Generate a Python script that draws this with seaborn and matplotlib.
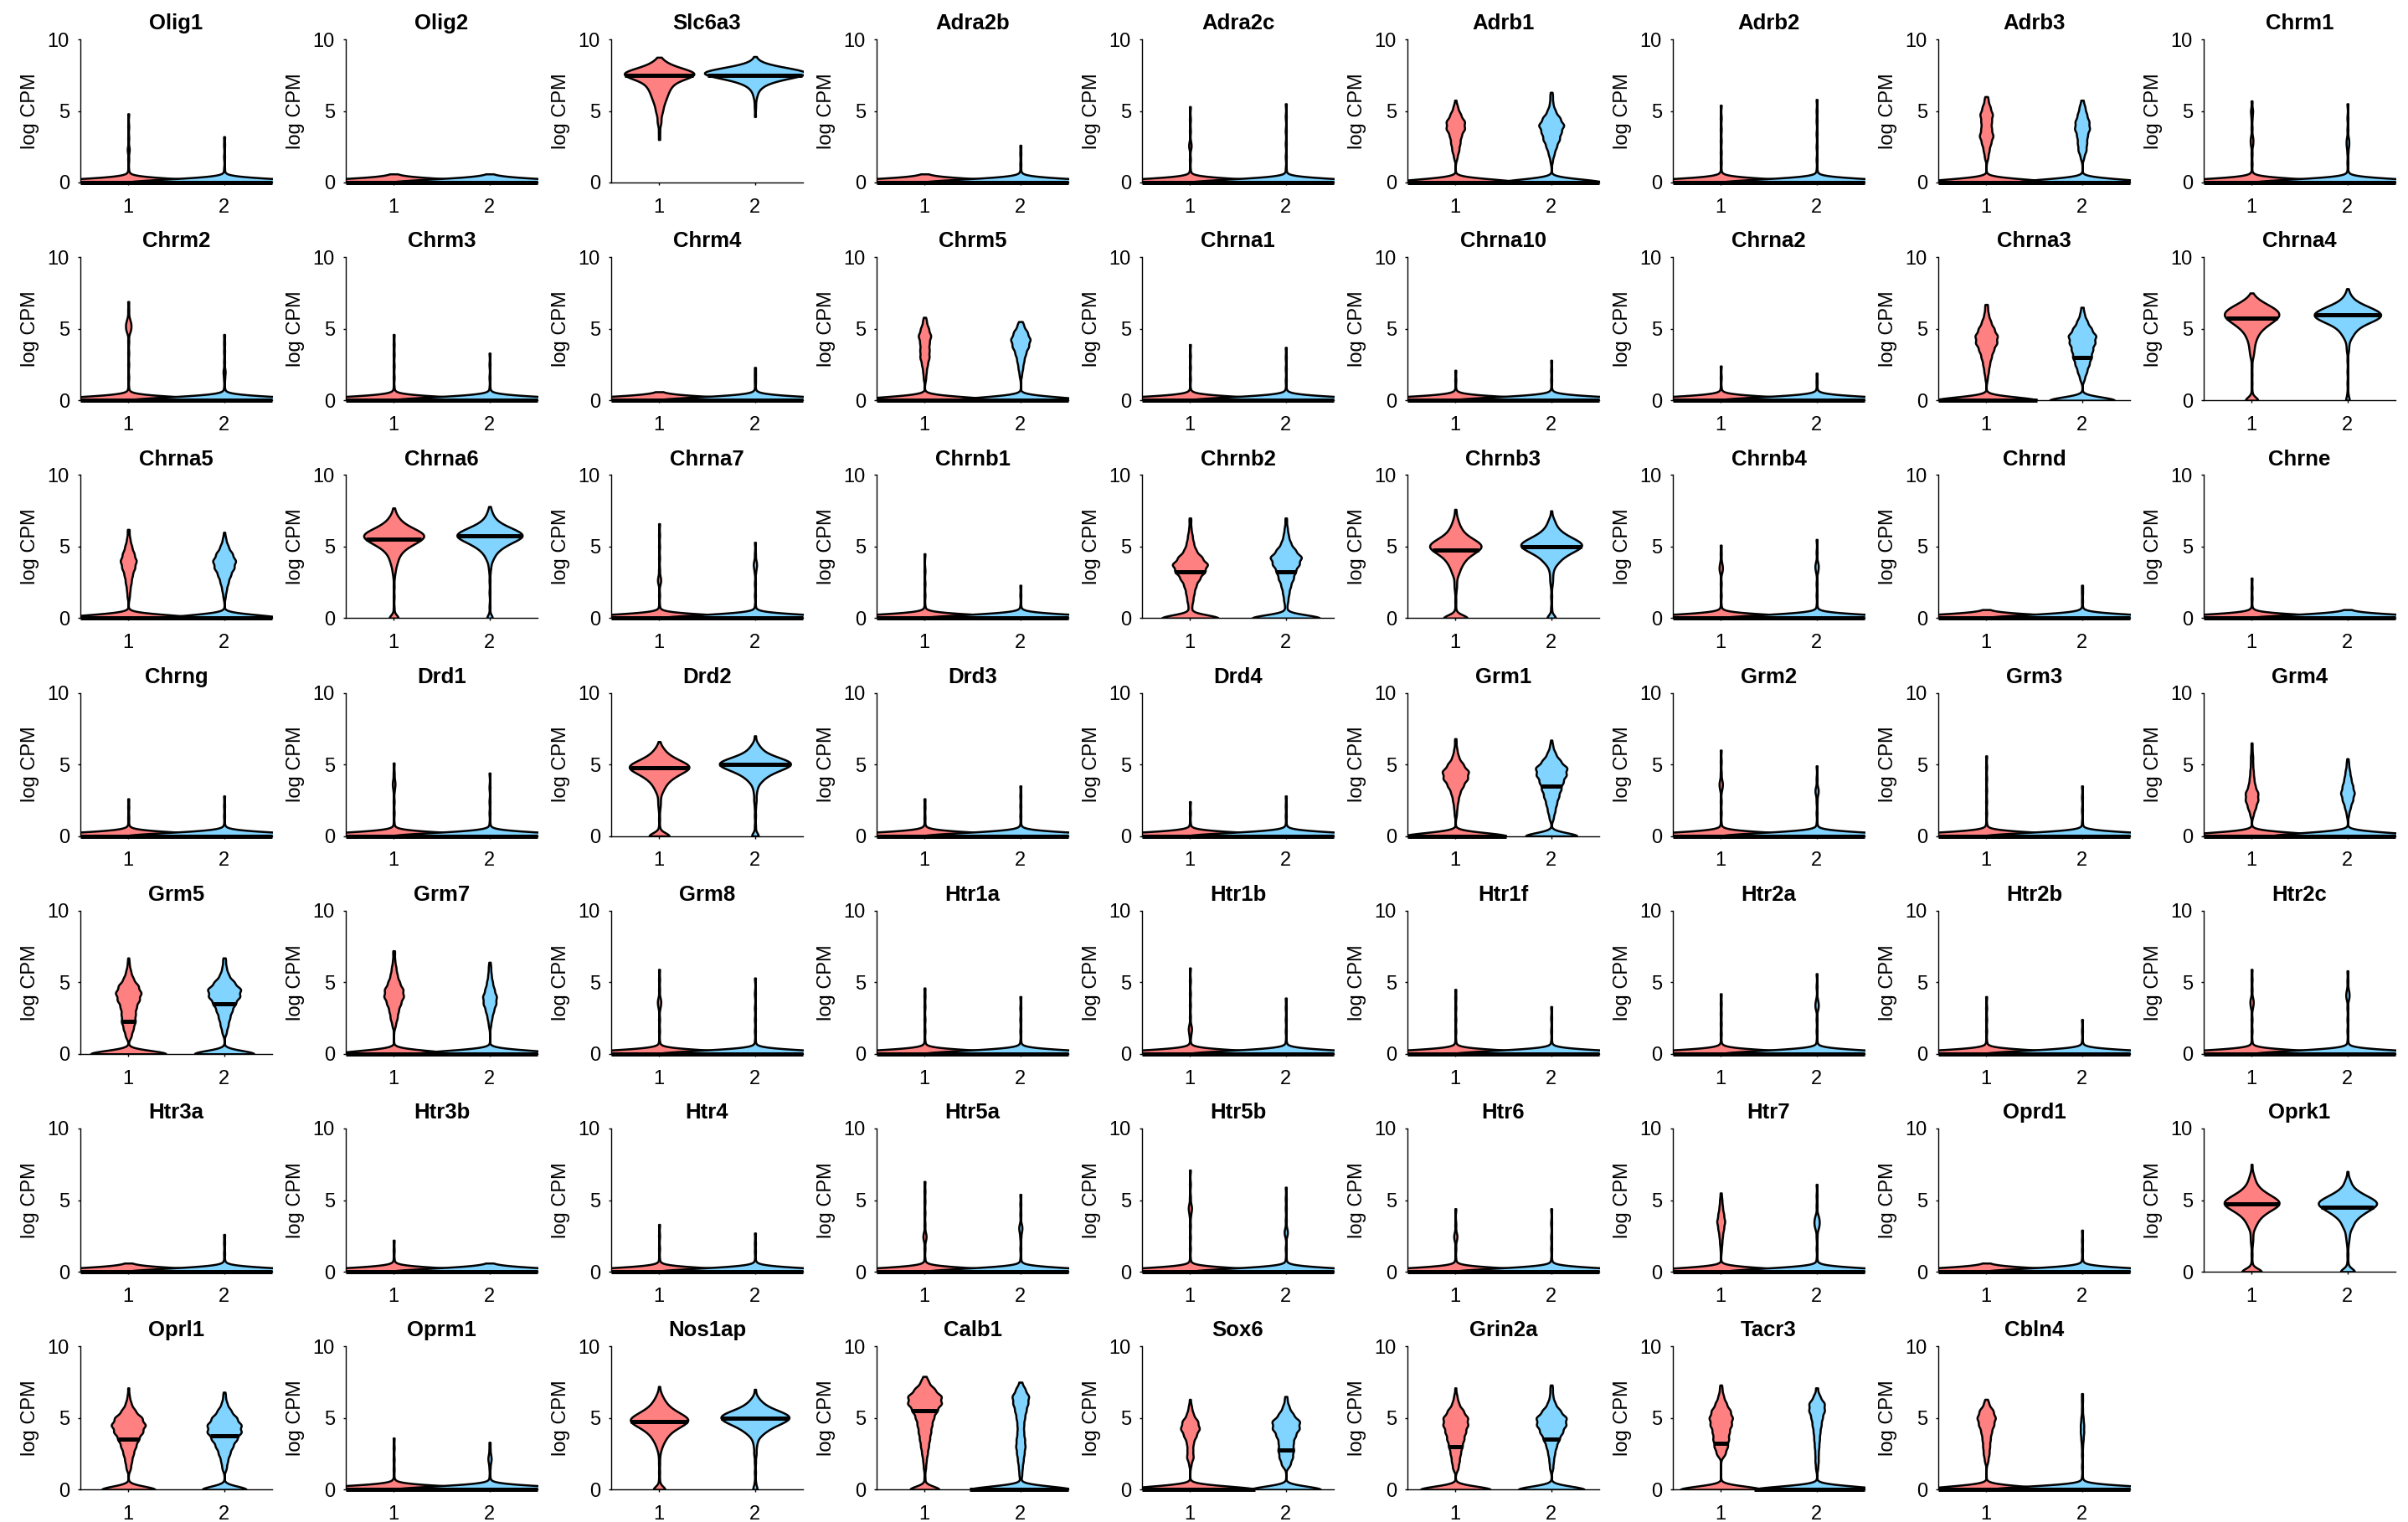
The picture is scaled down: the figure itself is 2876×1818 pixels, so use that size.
import numpy as np
import pandas as pd
import matplotlib.pyplot as plt
import seaborn as sns

# gene panels, read left to right, top to bottom
genes = ['Olig1', 'Olig2', 'Slc6a3', 'Adra2b', 'Adra2c', 'Adrb1', 'Adrb2', 'Adrb3', 'Chrm1',
         'Chrm2', 'Chrm3', 'Chrm4', 'Chrm5', 'Chrna1', 'Chrna10', 'Chrna2', 'Chrna3', 'Chrna4',
         'Chrna5', 'Chrna6', 'Chrna7', 'Chrnb1', 'Chrnb2', 'Chrnb3', 'Chrnb4', 'Chrnd', 'Chrne',
         'Chrng', 'Drd1', 'Drd2', 'Drd3', 'Drd4', 'Grm1', 'Grm2', 'Grm3', 'Grm4',
         'Grm5', 'Grm7', 'Grm8', 'Htr1a', 'Htr1b', 'Htr1f', 'Htr2a', 'Htr2b', 'Htr2c',
         'Htr3a', 'Htr3b', 'Htr4', 'Htr5a', 'Htr5b', 'Htr6', 'Htr7', 'Oprd1', 'Oprk1',
         'Oprl1', 'Oprm1', 'Nos1ap', 'Calb1', 'Sox6', 'Grin2a', 'Tacr3', 'Cbln4']

# (log CPM, number of cells) estimated from each violin of cluster 1
cells_1 = [
    [(0, 195), (0.8, 1), (1.6, 1), (2.3, 2), (3.1, 1), (3.9, 1), (4.8, 1)],  # Olig1
    [(0, 198), (0.3, 1), (0.6, 1)],  # Olig2
    [(3.0, 1), (3.5, 1), (4.0, 1), (4.25, 2), (4.5, 1), (4.75, 2), (5.0, 3), (5.25, 3), (5.5, 4), (5.75, 5),
     (6.0, 6), (6.25, 7), (6.5, 8), (6.75, 10), (7.0, 12), (7.25, 20), (7.5, 30), (7.75, 28), (8.0, 16),
     (8.25, 8), (8.5, 4), (8.75, 1)],  # Slc6a3
    [(0, 198), (0.3, 1), (0.6, 1)],  # Adra2b
    [(0, 194), (0.8, 1), (1.6, 1), (2.5, 2), (2.8, 1), (3.6, 1), (4.4, 1), (5.3, 1)],  # Adra2c
    [(0, 127), (1.75, 3), (2.25, 6), (2.75, 8), (3.25, 10), (3.75, 16), (4.25, 16), (4.75, 9), (5.25, 4),
     (5.75, 1)],  # Adrb1
    [(0, 194), (0.7, 1), (1.4, 1), (2.1, 1), (2.9, 1), (3.7, 1), (4.5, 1), (5.4, 1)],  # Adrb2
    [(0, 132), (1.75, 3), (2.25, 5), (2.75, 8), (3.25, 12), (3.75, 9), (4.25, 9), (4.75, 11), (5.25, 7),
     (5.75, 3), (6.0, 1)],  # Adrb3
    [(0, 190), (0.6, 1), (1.3, 1), (2.0, 1), (2.7, 2), (3.1, 2), (3.8, 1), (4.5, 1), (5.0, 2), (5.7, 1)],  # Chrm1
    [(0, 188), (0.8, 1), (1.6, 1), (2.5, 1), (3.3, 1), (4.1, 1), (4.8, 2), (5.0, 2), (5.25, 3), (5.5, 2),
     (5.75, 1), (6.3, 1), (6.9, 1)],  # Chrm2
    [(0, 195), (0.8, 1), (1.6, 1), (2.4, 1), (3.2, 1), (3.9, 1), (4.6, 1)],  # Chrm3
    [(0, 198), (0.3, 1), (0.6, 1)],  # Chrm4
    [(0, 144), (1.5, 2), (2.0, 3), (2.5, 5), (3.0, 8), (3.5, 8), (4.0, 8), (4.5, 11), (5.0, 7), (5.5, 3),
     (5.8, 1)],  # Chrm5
    [(0, 195), (0.7, 1), (1.5, 1), (2.3, 1), (3.1, 1), (3.9, 1)],  # Chrna1
    [(0, 197), (0.7, 1), (1.4, 1), (2.1, 1)],  # Chrna10
    [(0, 197), (0.8, 1), (1.6, 1), (2.4, 1)],  # Chrna2
    [(0, 105), (1.5, 2), (2.0, 4), (2.5, 6), (3.0, 9), (3.5, 13), (4.0, 19), (4.5, 20), (5.0, 14), (5.5, 8),
     (6.0, 4), (6.5, 2), (6.7, 1)],  # Chrna3
    [(0, 16), (0.6, 1), (1.2, 1), (1.8, 1), (2.4, 1), (3.0, 2), (3.25, 2), (3.5, 3), (3.75, 3), (4.0, 4),
     (4.25, 5), (4.5, 7), (4.75, 9), (5.0, 13), (5.25, 18), (5.5, 24), (5.75, 30), (6.0, 32), (6.25, 30),
     (6.5, 24), (6.75, 16), (7.0, 9), (7.25, 4), (7.5, 1)],  # Chrna4
    [(0, 137), (1.5, 2), (2.0, 3), (2.5, 5), (3.0, 7), (3.5, 11), (4.0, 14), (4.5, 10), (5.0, 6), (5.5, 3),
     (6.0, 1), (6.2, 1)],  # Chrna5
    [(0, 10), (0.7, 1), (1.5, 1), (2.2, 1), (2.8, 1), (3.2, 2), (3.5, 2), (3.75, 3), (4.0, 4), (4.25, 5),
     (4.5, 7), (4.75, 10), (5.0, 15), (5.25, 22), (5.5, 28), (5.75, 32), (6.0, 28), (6.25, 20), (6.5, 13),
     (6.75, 8), (7.0, 5), (7.25, 3), (7.5, 1), (7.7, 1)],  # Chrna6
    [(0, 192), (0.8, 1), (1.6, 1), (2.5, 2), (2.8, 2), (3.4, 1), (4.2, 1), (5.0, 1), (5.8, 1), (6.6, 1)],  # Chrna7
    [(0, 195), (0.8, 1), (1.6, 1), (2.4, 1), (3.3, 1), (4.5, 1)],  # Chrnb1
    [(0, 55), (0.75, 3), (1.25, 5), (1.75, 7), (2.25, 10), (2.75, 16), (3.25, 25), (3.75, 30), (4.25, 20),
     (4.75, 10), (5.25, 6), (5.75, 4), (6.25, 2), (6.75, 1), (7.0, 1)],  # Chrnb2
    [(0, 26), (0.6, 1), (1.2, 1), (1.8, 1), (2.2, 2), (2.6, 2), (3.0, 3), (3.25, 4), (3.5, 5), (3.75, 7),
     (4.0, 9), (4.25, 12), (4.5, 17), (4.75, 23), (5.0, 27), (5.25, 24), (5.5, 18), (5.75, 12), (6.0, 8),
     (6.25, 6), (6.5, 4), (6.75, 3), (7.0, 2), (7.3, 1), (7.6, 1)],  # Chrnb3
    [(0, 192), (0.8, 1), (1.6, 1), (2.4, 1), (3.3, 2), (3.6, 2), (3.9, 1), (4.5, 1), (5.1, 1)],  # Chrnb4
    [(0, 198), (0.3, 1), (0.6, 1)],  # Chrnd
    [(0, 196), (0.7, 1), (1.4, 1), (2.1, 1), (2.8, 1)],  # Chrne
    [(0, 196), (0.7, 1), (1.3, 1), (2.0, 1), (2.6, 1)],  # Chrng
    [(0, 192), (0.8, 1), (1.6, 1), (2.4, 1), (3.2, 1), (3.6, 2), (3.9, 1), (4.4, 1), (5.1, 1)],  # Drd1
    [(0, 21), (0.6, 1), (1.2, 1), (1.8, 1), (2.2, 2), (2.6, 2), (3.0, 3), (3.25, 4), (3.5, 6), (3.75, 8),
     (4.0, 12), (4.25, 17), (4.5, 24), (4.75, 30), (5.0, 28), (5.25, 20), (5.5, 13), (5.75, 8), (6.0, 5),
     (6.25, 3), (6.6, 1)],  # Drd2
    [(0, 196), (0.7, 1), (1.3, 1), (2.0, 1), (2.6, 1)],  # Drd3
    [(0, 197), (0.8, 1), (1.6, 1), (2.4, 1)],  # Drd4
    [(0, 106), (1.5, 2), (2.0, 3), (2.5, 5), (3.0, 8), (3.5, 14), (4.0, 22), (4.5, 24), (5.0, 14), (5.5, 6),
     (6.0, 3), (6.5, 1), (6.8, 1)],  # Grm1
    [(0, 192), (0.8, 1), (1.6, 1), (2.4, 1), (3.2, 1), (3.5, 2), (3.8, 2), (4.4, 1), (5.2, 1), (6.0, 1)],  # Grm2
    [(0, 194), (0.8, 1), (1.6, 1), (2.4, 1), (3.2, 1), (4.0, 1), (4.8, 1), (5.6, 1)],  # Grm3
    [(0, 149), (1.5, 3), (2.0, 7), (2.5, 11), (3.0, 11), (3.5, 6), (4.0, 4), (4.5, 3), (5.0, 2), (5.5, 2),
     (6.0, 1), (6.5, 1)],  # Grm4
    [(0, 88), (1.25, 6), (1.75, 10), (2.25, 14), (2.75, 14), (3.25, 16), (3.75, 22), (4.25, 26), (4.75, 20),
     (5.25, 10), (5.75, 5), (6.25, 2), (6.7, 1)],  # Grm5
    [(0, 114), (2.0, 3), (2.5, 6), (3.0, 8), (3.5, 12), (4.0, 17), (4.5, 16), (5.0, 10), (5.5, 6), (6.0, 4),
     (6.5, 2), (7.0, 1), (7.2, 1)],  # Grm7
    [(0, 192), (0.8, 1), (1.6, 1), (2.4, 1), (3.2, 1), (3.5, 2), (3.8, 2), (4.5, 1), (5.2, 1), (5.9, 1)],  # Grm8
    [(0, 195), (0.8, 1), (1.6, 1), (2.4, 1), (3.3, 1), (4.0, 1), (4.6, 1)],  # Htr1a
    [(0, 192), (0.6, 1), (1.2, 1), (1.6, 2), (1.9, 2), (2.6, 1), (3.4, 1), (4.2, 1), (5.1, 1), (6.0, 1)],  # Htr1b
    [(0, 195), (0.8, 1), (1.6, 1), (2.4, 1), (3.2, 1), (3.9, 1), (4.5, 1)],  # Htr1f
    [(0, 195), (0.7, 1), (1.4, 1), (2.1, 1), (2.8, 1), (3.5, 1), (4.2, 1)],  # Htr2a
    [(0, 195), (0.8, 1), (1.6, 1), (2.4, 1), (3.2, 1), (4.0, 1)],  # Htr2b
    [(0, 192), (0.8, 1), (1.6, 1), (2.4, 1), (3.2, 1), (3.5, 2), (3.8, 2), (4.5, 1), (5.2, 1), (5.9, 1)],  # Htr2c
    [(0, 198), (0.3, 1), (0.6, 1)],  # Htr3a
    [(0, 197), (0.8, 1), (1.5, 1), (2.2, 1)],  # Htr3b
    [(0, 196), (0.8, 1), (1.6, 1), (2.5, 1), (3.3, 1)],  # Htr4
    [(0, 192), (0.8, 1), (1.6, 1), (2.3, 2), (2.6, 2), (3.3, 1), (4.1, 1), (4.9, 1), (5.6, 1), (6.3, 1)],  # Htr5a
    [(0, 191), (0.8, 1), (1.6, 1), (2.4, 1), (3.2, 1), (3.9, 1), (4.3, 2), (4.6, 2), (5.2, 1), (6.1, 1),
     (7.1, 1)],  # Htr5b
    [(0, 193), (0.8, 1), (1.6, 1), (2.3, 2), (2.6, 2), (3.3, 1), (4.4, 1)],  # Htr6
    [(0, 171), (1.5, 1), (2.0, 2), (2.5, 3), (3.0, 5), (3.5, 7), (4.0, 5), (4.5, 3), (5.0, 2), (5.5, 1)],  # Htr7
    [(0, 198), (0.3, 1), (0.6, 1)],  # Oprd1
    [(0, 21), (0.6, 1), (1.2, 1), (1.8, 1), (2.2, 2), (2.6, 2), (3.0, 3), (3.25, 4), (3.5, 6), (3.75, 8),
     (4.0, 12), (4.25, 17), (4.5, 24), (4.75, 28), (5.0, 26), (5.25, 20), (5.5, 14), (5.75, 9), (6.0, 6),
     (6.25, 4), (6.5, 3), (6.75, 2), (7.0, 1), (7.5, 1)],  # Oprk1
    [(0, 54), (1.5, 4), (2.0, 6), (2.5, 9), (3.0, 13), (3.5, 18), (4.0, 25), (4.5, 30), (5.0, 24), (5.5, 12),
     (6.0, 5), (6.5, 2), (7.1, 1)],  # Oprl1
    [(0, 195), (0.7, 1), (1.4, 1), (2.1, 1), (2.9, 1), (3.6, 1)],  # Oprm1
    [(0, 12), (0.6, 1), (1.2, 1), (1.8, 1), (2.3, 1), (2.7, 2), (3.0, 3), (3.25, 4), (3.5, 6), (3.75, 8),
     (4.0, 11), (4.25, 16), (4.5, 22), (4.75, 28), (5.0, 27), (5.25, 21), (5.5, 15), (5.75, 10), (6.0, 7),
     (6.25, 5), (6.5, 3), (6.75, 2), (7.2, 1)],  # Nos1ap
    [(0, 30), (0.8, 1), (1.5, 2), (2.0, 3), (2.5, 5), (3.0, 7), (3.5, 9), (4.0, 11), (4.5, 13), (5.0, 16),
     (5.5, 22), (6.0, 30), (6.5, 30), (7.0, 18), (7.5, 7), (7.9, 2)],  # Calb1
    [(0, 135), (1.75, 2), (2.25, 6), (2.75, 5), (3.25, 6), (3.75, 11), (4.25, 17), (4.75, 14), (5.25, 6),
     (5.75, 3), (6.3, 1)],  # Sox6
    [(0, 72), (1.5, 5), (2.0, 7), (2.5, 9), (3.0, 12), (3.5, 15), (4.0, 18), (4.5, 22), (5.0, 22), (5.5, 14),
     (6.0, 6), (6.5, 3), (7.1, 1)],  # Grin2a
    [(0, 84), (2.5, 8), (3.0, 12), (3.5, 14), (4.0, 15), (4.5, 19), (5.0, 21), (5.5, 17), (6.0, 10), (6.5, 5),
     (7.0, 2), (7.3, 1)],  # Tacr3
    [(0, 124), (2.0, 3), (2.5, 5), (3.0, 6), (3.5, 7), (4.0, 9), (4.5, 13), (5.0, 16), (5.5, 12), (6.0, 4),
     (6.3, 1)],  # Cbln4
]

# (log CPM, number of cells) estimated from each violin of cluster 2
cells_2 = [
    [(0, 196), (0.9, 1), (1.8, 1), (2.6, 1), (3.2, 1)],  # Olig1
    [(0, 198), (0.3, 1), (0.6, 1)],  # Olig2
    [(4.6, 1), (5.2, 1), (5.6, 1), (6.0, 2), (6.25, 2), (6.5, 4), (6.75, 7), (7.0, 14), (7.25, 26), (7.5, 48),
     (7.75, 52), (8.0, 28), (8.25, 10), (8.5, 3), (8.8, 1)],  # Slc6a3
    [(0, 195), (0.7, 1), (1.3, 1), (2.0, 1), (2.6, 1)],  # Adra2b
    [(0, 195), (0.9, 1), (1.8, 1), (2.7, 1), (3.6, 1), (4.6, 1), (5.5, 1)],  # Adra2c
    [(0, 103), (1.5, 2), (2.0, 5), (2.5, 9), (3.0, 14), (3.5, 17), (4.0, 22), (4.5, 15), (5.0, 7), (5.5, 3),
     (6.0, 2), (6.3, 1)],  # Adrb1
    [(0, 194), (0.8, 1), (1.6, 1), (2.5, 1), (3.4, 1), (4.3, 1), (5.0, 1), (5.8, 1)],  # Adrb2
    [(0, 133), (1.75, 3), (2.25, 7), (2.75, 8), (3.25, 9), (3.75, 13), (4.25, 12), (4.75, 8), (5.25, 5),
     (5.75, 2)],  # Adrb3
    [(0, 192), (0.7, 1), (1.4, 1), (2.1, 1), (2.6, 2), (3.0, 2), (3.7, 1), (4.5, 1), (5.5, 1)],  # Chrm1
    [(0, 194), (0.8, 1), (1.5, 1), (2.0, 2), (2.7, 1), (3.4, 1), (4.0, 1), (4.6, 1)],  # Chrm2
    [(0, 196), (0.8, 1), (1.6, 1), (2.5, 1), (3.3, 1)],  # Chrm3
    [(0, 196), (0.7, 1), (1.3, 1), (1.8, 1), (2.3, 1)],  # Chrm4
    [(0, 130), (1.75, 2), (2.25, 4), (2.75, 6), (3.25, 9), (3.75, 14), (4.25, 17), (4.75, 12), (5.25, 5),
     (5.5, 1)],  # Chrm5
    [(0, 195), (0.7, 1), (1.4, 1), (2.2, 1), (3.0, 1), (3.7, 1)],  # Chrna1
    [(0, 196), (0.7, 1), (1.4, 1), (2.1, 1), (2.8, 1)],  # Chrna10
    [(0, 197), (0.7, 1), (1.3, 1), (1.9, 1)],  # Chrna2
    [(0, 65), (1.5, 4), (2.0, 8), (2.5, 12), (3.0, 16), (3.5, 18), (4.0, 22), (4.5, 24), (5.0, 16), (5.5, 9),
     (6.0, 4), (6.5, 2)],  # Chrna3
    [(0, 4), (0.5, 1), (1.2, 1), (2.0, 1), (2.8, 1), (3.5, 2), (3.9, 2), (4.25, 3), (4.5, 5), (4.75, 7),
     (5.0, 10), (5.25, 15), (5.5, 24), (5.75, 32), (6.0, 35), (6.25, 30), (6.5, 22), (6.75, 13), (7.0, 7),
     (7.25, 4), (7.5, 2), (7.8, 1)],  # Chrna4
    [(0, 114), (1.5, 2), (2.0, 4), (2.5, 7), (3.0, 11), (3.5, 17), (4.0, 20), (4.5, 14), (5.0, 7), (5.5, 3),
     (6.0, 1)],  # Chrna5
    [(0, 6), (0.8, 1), (1.8, 1), (2.6, 1), (3.2, 1), (3.6, 2), (4.0, 3), (4.25, 4), (4.5, 6), (4.75, 9),
     (5.0, 14), (5.25, 20), (5.5, 28), (5.75, 34), (6.0, 30), (6.25, 22), (6.5, 14), (6.75, 8), (7.0, 5),
     (7.25, 3), (7.5, 2), (7.8, 1)],  # Chrna6
    [(0, 192), (0.8, 1), (1.6, 1), (2.4, 1), (3.2, 1), (3.6, 2), (3.9, 2), (4.5, 1), (5.3, 1)],  # Chrna7
    [(0, 197), (0.8, 1), (1.6, 1), (2.3, 1)],  # Chrnb1
    [(0, 74), (0.75, 2), (1.25, 4), (1.75, 6), (2.25, 9), (2.75, 14), (3.25, 18), (3.75, 25), (4.25, 30),
     (4.75, 18), (5.25, 9), (5.75, 5), (6.25, 3), (6.75, 1), (7.0, 1)],  # Chrnb2
    [(0, 8), (0.7, 1), (1.5, 1), (2.2, 1), (2.6, 2), (3.0, 2), (3.4, 3), (3.75, 5), (4.0, 7), (4.25, 10),
     (4.5, 15), (4.75, 21), (5.0, 27), (5.25, 26), (5.5, 20), (5.75, 14), (6.0, 9), (6.25, 6), (6.5, 4),
     (6.75, 3), (7.0, 2), (7.5, 1)],  # Chrnb3
    [(0, 192), (0.8, 1), (1.6, 1), (2.4, 1), (3.2, 1), (3.5, 2), (3.8, 2), (4.6, 1), (5.5, 1)],  # Chrnb4
    [(0, 196), (0.6, 1), (1.2, 1), (1.8, 1), (2.3, 1)],  # Chrnd
    [(0, 198), (0.3, 1), (0.6, 1)],  # Chrne
    [(0, 196), (0.7, 1), (1.4, 1), (2.1, 1), (2.8, 1)],  # Chrng
    [(0, 195), (0.8, 1), (1.6, 1), (2.4, 1), (3.4, 1), (4.4, 1)],  # Drd1
    [(0, 6), (0.7, 1), (1.4, 1), (2.0, 1), (2.5, 2), (3.0, 2), (3.4, 3), (3.75, 5), (4.0, 7), (4.25, 11),
     (4.5, 17), (4.75, 25), (5.0, 32), (5.25, 28), (5.5, 18), (5.75, 10), (6.0, 6), (6.25, 4), (6.5, 2),
     (7.0, 1)],  # Drd2
    [(0, 195), (0.7, 1), (1.4, 1), (2.1, 1), (2.8, 1), (3.5, 1)],  # Drd3
    [(0, 196), (0.7, 1), (1.4, 1), (2.1, 1), (2.8, 1)],  # Drd4
    [(0, 56), (1.25, 4), (1.75, 7), (2.25, 10), (2.75, 14), (3.25, 18), (3.75, 22), (4.25, 28), (4.75, 30),
     (5.25, 17), (5.75, 8), (6.25, 3), (6.7, 1)],  # Grm1
    [(0, 193), (0.8, 1), (1.6, 1), (2.4, 1), (3.0, 2), (3.3, 2), (4.0, 1), (4.9, 1)],  # Grm2
    [(0, 196), (0.9, 1), (1.8, 1), (2.7, 1), (3.5, 1)],  # Grm3
    [(0, 150), (1.5, 2), (2.0, 5), (2.5, 9), (3.0, 12), (3.5, 9), (4.0, 6), (4.5, 4), (5.0, 2), (5.4, 1)],  # Grm4
    [(0, 62), (1.5, 4), (2.0, 7), (2.5, 10), (3.0, 14), (3.5, 20), (4.0, 28), (4.5, 30), (5.0, 18), (5.5, 8),
     (6.0, 4), (6.5, 2), (6.7, 1)],  # Grm5
    [(0, 145), (2.0, 2), (2.5, 4), (3.0, 7), (3.5, 11), (4.0, 12), (4.5, 8), (5.0, 5), (5.5, 3), (6.0, 2),
     (6.4, 1)],  # Grm7
    [(0, 194), (0.8, 1), (1.6, 1), (2.4, 1), (3.2, 1), (4.2, 1), (5.3, 1)],  # Grm8
    [(0, 195), (0.8, 1), (1.6, 1), (2.4, 1), (3.2, 1), (4.0, 1)],  # Htr1a
    [(0, 195), (0.8, 1), (1.6, 1), (2.4, 1), (3.2, 1), (3.9, 1)],  # Htr1b
    [(0, 196), (0.8, 1), (1.6, 1), (2.5, 1), (3.3, 1)],  # Htr1f
    [(0, 192), (0.8, 1), (1.6, 1), (2.4, 1), (3.2, 2), (3.5, 2), (3.8, 1), (4.7, 1), (5.6, 1)],  # Htr2a
    [(0, 197), (0.8, 1), (1.6, 1), (2.4, 1)],  # Htr2b
    [(0, 192), (0.8, 1), (1.6, 1), (2.4, 1), (3.2, 1), (3.9, 2), (4.2, 2), (4.5, 1), (5.1, 1), (5.8, 1)],  # Htr2c
    [(0, 196), (0.7, 1), (1.3, 1), (2.0, 1), (2.6, 1)],  # Htr3a
    [(0, 198), (0.3, 1), (0.6, 1)],  # Htr3b
    [(0, 196), (0.7, 1), (1.4, 1), (2.0, 1), (2.7, 1)],  # Htr4
    [(0, 193), (0.8, 1), (1.6, 1), (2.4, 1), (2.9, 2), (3.2, 2), (4.0, 1), (4.7, 1), (5.4, 1)],  # Htr5a
    [(0, 193), (0.8, 1), (1.6, 1), (2.6, 2), (2.9, 2), (3.6, 1), (4.4, 1), (5.1, 1), (5.9, 1)],  # Htr5b
    [(0, 195), (0.8, 1), (1.6, 1), (2.4, 1), (3.4, 1), (4.4, 1)],  # Htr6
    [(0, 190), (0.8, 1), (1.6, 1), (2.4, 1), (3.0, 2), (3.3, 3), (3.6, 3), (3.9, 2), (4.6, 1), (5.3, 1),
     (6.1, 1)],  # Htr7
    [(0, 196), (0.8, 1), (1.5, 1), (2.2, 1), (2.9, 1)],  # Oprd1
    [(0, 14), (0.6, 1), (1.2, 1), (1.8, 1), (2.2, 2), (2.6, 3), (3.0, 4), (3.25, 5), (3.5, 6), (3.75, 9),
     (4.0, 13), (4.25, 18), (4.5, 24), (4.75, 28), (5.0, 25), (5.25, 18), (5.5, 12), (5.75, 7), (6.0, 4),
     (6.25, 3), (6.5, 2), (7.0, 1)],  # Oprk1
    [(0, 45), (1.5, 4), (2.0, 6), (2.5, 10), (3.0, 15), (3.5, 22), (4.0, 30), (4.5, 30), (5.0, 22), (5.5, 12),
     (6.0, 5), (6.5, 2), (6.8, 1)],  # Oprl1
    [(0, 193), (0.8, 1), (1.5, 1), (2.0, 2), (2.3, 2), (2.8, 1), (3.3, 1)],  # Oprm1
    [(0, 4), (0.5, 1), (1.2, 1), (1.9, 1), (2.5, 2), (3.0, 2), (3.4, 3), (3.75, 5), (4.0, 8), (4.25, 12),
     (4.5, 18), (4.75, 25), (5.0, 30), (5.25, 27), (5.5, 19), (5.75, 11), (6.0, 7), (6.25, 4), (6.5, 2),
     (7.0, 1)],  # Nos1ap
    [(0, 125), (1.0, 3), (1.5, 4), (2.0, 6), (2.5, 8), (3.0, 10), (3.5, 9), (4.0, 7), (4.5, 7), (5.0, 9),
     (5.5, 12), (6.0, 16), (6.5, 18), (7.0, 10), (7.5, 3)],  # Calb1
    [(0, 72), (1.75, 8), (2.25, 12), (2.75, 14), (3.25, 13), (3.75, 17), (4.25, 24), (4.75, 25), (5.25, 13),
     (5.75, 6), (6.25, 2), (6.5, 1)],  # Sox6
    [(0, 68), (1.5, 3), (2.0, 4), (2.5, 6), (3.0, 9), (3.5, 14), (4.0, 20), (4.5, 26), (5.0, 27), (5.5, 16),
     (6.0, 7), (6.5, 3), (7.0, 2), (7.3, 1)],  # Grin2a
    [(0, 130), (1.5, 2), (2.0, 3), (2.5, 3), (3.0, 4), (3.5, 5), (4.0, 6), (4.5, 8), (5.0, 10), (5.5, 14),
     (6.0, 14), (6.5, 6), (7.1, 2)],  # Tacr3
    [(0, 186), (0.8, 1), (1.6, 1), (2.4, 1), (3.0, 1), (3.5, 2), (4.0, 3), (4.5, 3), (5.0, 2), (5.6, 1),
     (6.2, 1), (6.7, 1)],  # Cbln4
]

clusters = ['1', '2']
colours = {'1': '#FF8080', '2': '#80D4FF'}

BW = 0.23    # kernel bandwidth in log CPM
AREA = 0.6   # violin half width per unit of density, shared by all panels


def expand(pairs):
    values, counts = zip(*pairs)
    return np.repeat(np.array(values, dtype=float), counts)


def density(x, at):
    z = (np.atleast_1d(at)[:, None] - x[None, :]) / BW
    return np.exp(-0.5 * z ** 2).sum(axis=1) / (len(x) * BW * np.sqrt(2 * np.pi))


def fixed_bw(kde):
    # same absolute bandwidth for every violin
    return BW / kde.dataset.std(ddof=1)


sns.set_style('ticks', {'axes.edgecolor': 'black', 'xtick.color': 'black', 'ytick.color': 'black',
                        'text.color': 'black', 'axes.labelcolor': 'black'})
plt.rcParams['font.family'] = ['Liberation Sans', 'DejaVu Sans']

fig = plt.figure(figsize=(28.76, 18.18), dpi=100)

for i, gene in enumerate(genes):
    row, col = divmod(i, 9)
    ax = fig.add_axes([(96 + 317 * col) / 2876, 1 - (218 + 260.2 * row) / 1818,
                       229 / 2876, 171 / 1818])

    samples = [expand(cells_1[i]), expand(cells_2[i])]
    df = pd.DataFrame({'cluster': np.repeat(clusters, [len(s) for s in samples]),
                       'logCPM': np.concatenate(samples)})
    peak = max(density(s, np.linspace(s.min(), s.max(), 200)).max() for s in samples)

    sns.violinplot(data=df, x='cluster', y='logCPM', hue='cluster', order=clusters,
                   hue_order=clusters, palette=colours, saturation=1, cut=0, gridsize=200,
                   bw_method=fixed_bw, density_norm='area', common_norm=True,
                   width=2 * AREA * peak, inner=None, linecolor='black', linewidth=1.8,
                   legend=False, ax=ax)

    # median bar across the violin
    for pos, s in enumerate(samples):
        med = np.median(s)
        half = AREA * density(s, med)[0]
        ax.hlines(med, max(pos - half, -0.5), min(pos + half, 1.5), color='black',
                  lw=3.6, zorder=5, clip_on=False)

    ax.set_xlim(-0.5, 1.5)
    ax.set_ylim(0, 10)
    ax.set_yticks([0, 5, 10])
    ax.set_xlabel('')
    ax.set_ylabel('log CPM', fontsize=17, labelpad=7)
    ax.set_title(gene, fontsize=18.5, fontweight='bold', pad=8.5)
    ax.tick_params(labelsize=17, length=2.5, width=1)
    ax.tick_params(axis='x', pad=11)
    ax.tick_params(axis='y', pad=7)
    sns.despine(ax=ax)
    for side in ['left', 'bottom']:
        ax.spines[side].set_linewidth(1.0)

fig.savefig('out.png', dpi=100, facecolor='white')
